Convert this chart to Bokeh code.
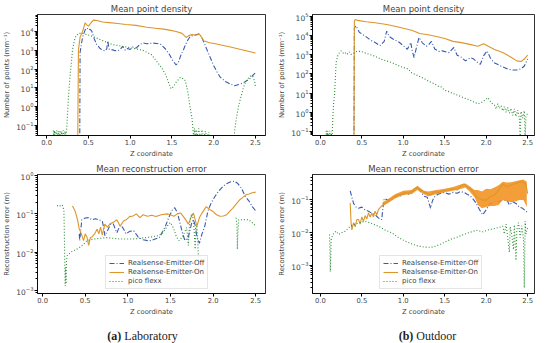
from bokeh.plotting import figure
from bokeh.models import (Range1d, FixedTicker, LogTickFormatter, PrintfTickFormatter,
                          Legend, LegendItem, Div)
from bokeh.layouts import column, row
from bokeh.embed import file_html
from bokeh.resources import INLINE

NAN = float("nan")  # gap in a series (no measurement)

# ---------------- data ----------------
x_ticks = [0.0, 0.5, 1.0, 1.5, 2.0, 2.5]
lab_density_ticks = [0.1, 1, 10, 100, 1000, 10000]
out_density_ticks = [0.1, 1, 10, 100, 1000, 10000, 100000]
lab_error_ticks = [0.001, 0.01, 0.1, 1]
out_error_ticks = [0.001, 0.01, 0.1]
series_names = ["Realsense-Emitter-Off", "Realsense-Emitter-On", "pico flexx"]
captions = ["(a)", "Laboratory", "(b)", "Outdoor"]

# (a) Laboratory - mean point density (z, points per mm)
lab_density_off = [(0.395, 0.001), (0.40, 800), (0.43, 5000), (0.46, 12000), (0.48, 15500), (0.50, 12000),
                   (0.52, 13000), (0.54, 10500), (0.57, 4000), (0.60, 2000), (0.64, 1230), (0.67, 1000),
                   (0.70, 910), (0.72, 1200), (0.73, 3100), (0.75, 1100), (0.79, 1050), (0.82, 950),
                   (0.85, 930), (0.88, 1100), (0.91, 1600), (0.94, 1000), (0.97, 1250), (1.00, 1100),
                   (1.03, 1500), (1.07, 1300), (1.11, 1900), (1.15, 2450), (1.20, 2200), (1.27, 2400),
                   (1.32, 2300), (1.37, 2000), (1.42, 1200), (1.47, 590), (1.51, 280), (1.55, 165),
                   (1.58, 250), (1.61, 600), (1.64, 1120), (1.68, 3000), (1.72, 5600), (1.77, 6300),
                   (1.83, 7600), (1.86, 4500), (1.90, 1700), (1.95, 500), (2.00, 150), (2.04, 70),
                   (2.08, 36), (2.14, 22), (2.20, 16), (2.25, 13), (2.30, 15), (2.35, 18), (2.43, 30),
                   (2.50, 65)]
lab_density_on = [(0.37, 0.001), (0.38, 1000), (0.40, 5000), (0.43, 10000), (0.46, 28800), (0.48, 22400),
                  (0.50, 19000), (0.53, 28200), (0.56, 39800), (0.60, 38000), (0.67, 31600), (0.75, 29500),
                  (0.85, 26300), (0.95, 23400), (1.07, 20900), (1.20, 16600), (1.30, 14800), (1.40, 13200),
                  (1.47, 11700), (1.55, 10000), (1.62, 7900), (1.67, 4800), (1.70, 6000), (1.74, 6900),
                  (1.78, 6300), (1.83, 7100), (1.88, 3200), (1.95, 2500), (2.02, 2200), (2.10, 1860),
                  (2.20, 1500), (2.30, 1170), (2.40, 910), (2.50, 710)]
lab_density_pico = [(0.08, 0.055), (0.085, 0.02), (0.09, 0.055), (0.095, 0.02), (0.10, 0.05), (0.11, 0.02),
                    (0.12, 0.055), (0.13, 0.02), (0.14, 0.05), (0.15, 0.02), (0.16, 0.055), (0.17, 0.02),
                    (0.18, 0.05), (0.19, 0.02), (0.20, 0.055), (0.21, 0.02), (0.22, 0.05), (0.23, 0.02),
                    (0.24, 0.07), (0.26, 3), (0.28, 45), (0.31, 1100), (0.34, 4700), (0.38, 7900),
                    (0.42, 7900), (0.46, 7200), (0.55, 5500), (0.65, 3500), (0.79, 2000), (0.95, 1500),
                    (1.15, 1000), (1.25, 600), (1.33, 220), (1.38, 110), (1.43, 45), (1.47, 14), (1.49, 9),
                    (1.52, 12), (1.55, 20), (1.60, 36), (1.64, 30), (1.66, 24), (1.69, 6), (1.72, 0.8),
                    (1.74, 0.23), (1.75, 0.08), (1.76, 0.02), (1.77, 0.07), (1.78, 0.02), (1.79, 0.06),
                    (1.80, 0.02), (1.82, 0.07), (1.84, 0.02), (1.86, 0.06), (1.88, 0.02), (1.90, 0.05),
                    (1.92, 0.02), (1.94, 0.045), (1.95, 0.01), (2.24, 0.01), (2.25, 0.05), (2.27, 0.23),
                    (2.30, 1.2), (2.33, 4), (2.36, 12), (2.39, 24), (2.43, 40), (2.45, 45), (2.47, 40),
                    (2.49, 22), (2.50, 11)]

# (b) Outdoor - mean point density
out_density_off = [(0.405, 0.01), (0.41, 25000), (0.43, 32000), (0.47, 15000), (0.54, 9500), (0.60, 6000),
                   (0.66, 4400), (0.72, 3000), (0.77, 5000), (0.80, 17000), (0.83, 9000), (0.88, 6500),
                   (0.95, 4500), (1.00, 3000), (1.05, 1950), (1.09, 4400), (1.11, 1500), (1.13, 720),
                   (1.16, 2500), (1.19, 8000), (1.23, 4200), (1.28, 2800), (1.31, 3500), (1.34, 5000),
                   (1.38, 2000), (1.43, 1500), (1.47, 1600), (1.55, 1300), (1.61, 2400), (1.65, 950),
                   (1.70, 750), (1.75, 480), (1.81, 700), (1.85, 600), (1.89, 420), (1.93, 320),
                   (1.97, 900), (2.01, 1600), (2.05, 700), (2.09, 400), (2.17, 270), (2.26, 180),
                   (2.32, 160), (2.38, 160), (2.43, 200), (2.46, 260), (2.50, 600)]
out_density_on = [(0.405, 0.01), (0.41, 55000), (0.42, 69000), (0.45, 62000), (0.55, 53000), (0.66, 47000),
                  (0.80, 38000), (0.90, 31000), (1.00, 24000), (1.10, 19000), (1.20, 13000), (1.30, 11000),
                  (1.40, 9000), (1.50, 7000), (1.60, 5000), (1.70, 4300), (1.80, 3500), (1.90, 2800),
                  (1.97, 3800), (2.02, 2900), (2.10, 1900), (2.20, 1300), (2.30, 750), (2.37, 480),
                  (2.42, 450), (2.46, 600), (2.50, 950)]
out_density_pico = [(0.07, 0.11), (0.075, 0.03), (0.08, 0.11), (0.085, 0.03), (0.09, 0.10), (0.10, 0.03),
                    (0.11, 0.11), (0.12, 0.03), (0.13, 0.10), (0.14, 0.03), (0.15, 0.5), (0.16, 3),
                    (0.17, 7), (0.19, 400), (0.21, 900), (0.23, 1300), (0.25, 1600), (0.27, 1300),
                    (0.29, 1100), (0.31, 1350), (0.33, 1100), (0.35, 1400), (0.37, 1050), (0.40, 1200),
                    (0.44, 1500), (0.49, 1500), (0.55, 1200), (0.65, 870), (0.75, 550), (0.86, 400),
                    (0.96, 250), (1.06, 180), (1.10, 115), (1.18, 80), (1.26, 55), (1.30, 43), (1.38, 30),
                    (1.43, 22), (1.46, 21), (1.50, 14), (1.55, 12), (1.60, 9.5), (1.65, 8), (1.70, 6.5),
                    (1.75, 5.2), (1.80, 4.5), (1.85, 3.5), (1.90, 2.8), (1.96, 3.5), (2.02, 5.8),
                    (2.06, 3.2), (2.10, 2.4), (2.12, 1.5), (2.14, 2.8), (2.16, 1.6), (2.18, 2.2),
                    (2.20, 1.2), (2.22, 2.0), (2.24, 1.0), (2.26, 1.8), (2.28, 0.9), (2.30, 1.6),
                    (2.32, 0.7), (2.34, 1.5), (2.36, 0.6), (2.38, 1.3), (2.40, 0.5), (2.41, 0.05),
                    (2.42, 1.1), (2.44, 0.5), (2.46, 1.2), (2.47, 0.05), (2.48, 0.6), (2.50, 0.9)]

# (a) Laboratory - mean reconstruction error (z, metres)
lab_error_off = [(0.43, 0.03), (0.435, 0.02), (0.46, 0.07), (0.50, 0.078), (0.54, 0.08), (0.58, 0.07),
                 (0.62, 0.075), (0.66, 0.07), (0.70, 0.065), (0.72, 0.04), (0.73, 0.027), (0.77, 0.04),
                 (0.80, 0.055), (0.83, 0.054), (0.87, 0.032), (0.91, 0.05), (0.94, 0.044), (0.98, 0.03),
                 (1.02, 0.035), (1.07, 0.036), (1.12, 0.025), (1.18, 0.021), (1.23, 0.02), (1.27, 0.02),
                 (1.32, 0.022), (1.37, 0.024), (1.41, 0.035), (1.44, 0.047), (1.48, 0.08), (1.52, 0.125),
                 (1.55, 0.145), (1.58, 0.11), (1.61, 0.06), (1.64, 0.032), (1.67, 0.02), (1.71, 0.025),
                 (1.75, 0.059), (1.77, 0.07), (1.79, 0.05), (1.81, 0.025), (1.84, 0.017), (1.87, 0.03),
                 (1.90, 0.045), (1.94, 0.12), (1.98, 0.2), (2.02, 0.28), (2.06, 0.38), (2.10, 0.48),
                 (2.15, 0.6), (2.20, 0.68), (2.25, 0.72), (2.29, 0.62), (2.33, 0.48), (2.38, 0.28),
                 (2.42, 0.22), (2.46, 0.155), (2.50, 0.12)]
lab_error_on = [(0.35, 0.16), (0.38, 0.12), (0.41, 0.07), (0.43, 0.04), (0.45, 0.032), (0.48, 0.02),
                (0.50, 0.03), (0.52, 0.025), (0.54, 0.015), (0.56, 0.024), (0.58, 0.025), (0.61, 0.03),
                (0.64, 0.04), (0.66, 0.03), (0.68, 0.045), (0.70, 0.028), (0.73, 0.054), (0.76, 0.045),
                (0.79, 0.055), (0.83, 0.06), (0.87, 0.07), (0.91, 0.048), (0.95, 0.065), (0.98, 0.07),
                (1.02, 0.085), (1.06, 0.088), (1.10, 0.1), (1.14, 0.08), (1.18, 0.095), (1.23, 0.087),
                (1.28, 0.092), (1.33, 0.085), (1.39, 0.095), (1.46, 0.1), (1.50, 0.095), (1.54, 0.087),
                (1.58, 0.1), (1.62, 0.105), (1.67, 0.075), (1.71, 0.054), (1.74, 0.08), (1.77, 0.105),
                (1.81, 0.048), (1.84, 0.08), (1.87, 0.105), (1.92, 0.155), (1.96, 0.13), (2.00, 0.115),
                (2.04, 0.095), (2.08, 0.087), (2.12, 0.088), (2.16, 0.095), (2.20, 0.12), (2.23, 0.14),
                (2.27, 0.18), (2.31, 0.23), (2.35, 0.27), (2.38, 0.31), (2.42, 0.33), (2.46, 0.355),
                (2.50, 0.37)]
lab_error_pico = [(0.17, 0.16), (0.19, 0.17), (0.21, 0.16), (0.23, 0.17), (0.24, 0.155), (0.25, 0.12),
                  (0.255, 0.03), (0.26, 0.005), (0.265, 0.0013), (0.27, 0.004), (0.275, 0.0015),
                  (0.28, 0.006), (0.29, 0.0083), (0.31, 0.009), (0.33, 0.01), (0.37, 0.011), (0.41, 0.0123),
                  (0.45, 0.014), (0.48, 0.016), (0.52, 0.02), (0.56, 0.021), (0.60, 0.022), (0.68, 0.023),
                  (0.75, 0.024), (0.83, 0.023), (0.91, 0.022), (1.00, 0.022), (1.06, 0.022), (1.14, 0.023),
                  (1.21, 0.024), (1.28, 0.025), (1.36, 0.027), (1.41, 0.032), (1.44, 0.04), (1.47, 0.05),
                  (1.50, 0.059), (1.52, 0.05), (1.54, 0.04), (1.57, 0.025), (1.60, 0.02), (1.64, 0.025),
                  (1.67, 0.035), (1.69, 0.044), (1.70, 0.025), (1.71, 0.015), (1.72, 0.04), (1.73, 0.07),
                  (1.75, 0.1), (1.77, 0.07), (1.78, 0.03), (1.79, 0.012), (1.80, 0.04), (1.81, 0.05),
                  (1.82, 0.02), (1.83, 0.0056), (1.84, 0.003), (1.845, NAN),
                  (2.27, 0.079), (2.28, 0.05), (2.285, 0.012), (2.29, 0.03), (2.30, 0.07), (2.31, 0.071),
                  (2.34, 0.07), (2.38, 0.071), (2.42, 0.07), (2.46, 0.059), (2.50, 0.048)]

# (b) Outdoor - mean reconstruction error
out_error_off = [(0.36, 0.19), (0.38, 0.12), (0.40, 0.078), (0.43, 0.06), (0.46, 0.055), (0.50, 0.06),
                 (0.54, 0.049), (0.58, 0.045), (0.62, 0.039), (0.66, 0.035), (0.70, 0.028), (0.74, 0.025),
                 (0.75, 0.045), (0.77, 0.11), (0.81, 0.1), (0.86, 0.098), (0.90, 0.12), (0.93, 0.14),
                 (0.98, 0.13), (1.02, 0.17), (1.06, 0.15), (1.10, 0.17), (1.14, 0.2), (1.17, 0.245),
                 (1.21, 0.18), (1.25, 0.13), (1.29, 0.12), (1.33, 0.055), (1.35, 0.09), (1.37, 0.12),
                 (1.42, 0.15), (1.49, 0.17), (1.55, 0.15), (1.60, 0.17), (1.65, 0.16), (1.69, 0.18),
                 (1.73, 0.17), (1.77, 0.15), (1.81, 0.13), (1.85, 0.1), (1.88, 0.078), (1.92, 0.05),
                 (1.96, 0.035), (2.00, 0.05), (2.04, 0.075), (2.10, 0.085), (2.15, 0.09), (2.20, 0.098),
                 (2.25, 0.1), (2.28, 0.07), (2.32, 0.088), (2.36, 0.078), (2.40, 0.06), (2.44, 0.055),
                 (2.48, 0.045), (2.50, 0.04)]
out_error_on = [(0.36, 0.08), (0.37, 0.02), (0.38, 0.012), (0.40, 0.02), (0.42, 0.015), (0.44, 0.025),
                (0.46, 0.025), (0.48, 0.018), (0.50, 0.03), (0.52, 0.022), (0.54, 0.033), (0.56, 0.026),
                (0.58, 0.04), (0.60, 0.03), (0.62, 0.039), (0.64, 0.03), (0.66, 0.045), (0.68, 0.035),
                (0.70, 0.05), (0.74, 0.065), (0.78, 0.078), (0.82, 0.09), (0.86, 0.11), (0.90, 0.13),
                (0.93, 0.14), (0.98, 0.15), (1.02, 0.17), (1.06, 0.16), (1.10, 0.18), (1.14, 0.22),
                (1.17, 0.245), (1.21, 0.2), (1.25, 0.17), (1.29, 0.16), (1.33, 0.14), (1.37, 0.18),
                (1.42, 0.17), (1.49, 0.195), (1.55, 0.2), (1.60, 0.22), (1.65, 0.2), (1.69, 0.26),
                (1.73, 0.31), (1.77, 0.25), (1.81, 0.22), (1.85, 0.17), (1.88, 0.12), (1.92, 0.11),
                (1.96, 0.098), (2.00, 0.1), (2.04, 0.12), (2.10, 0.14), (2.15, 0.2), (2.20, 0.31),
                (2.25, 0.25), (2.28, 0.27), (2.32, 0.3), (2.36, 0.32), (2.40, 0.35), (2.44, 0.35),
                (2.48, 0.3), (2.50, 0.155)]
# noisy spread of the Emitter-On error (z, low, high)
out_error_on_spread = [(0.75, 0.065, 0.085), (0.80, 0.075, 0.1), (0.90, 0.11, 0.15), (1.00, 0.14, 0.19),
                       (1.10, 0.15, 0.2), (1.17, 0.2, 0.27), (1.25, 0.15, 0.19), (1.30, 0.13, 0.18),
                       (1.40, 0.15, 0.2), (1.50, 0.17, 0.22), (1.60, 0.19, 0.25), (1.70, 0.22, 0.3),
                       (1.75, 0.24, 0.32), (1.80, 0.18, 0.26), (1.86, 0.12, 0.2), (1.90, 0.07, 0.2),
                       (1.95, 0.055, 0.18), (2.00, 0.06, 0.22), (2.05, 0.065, 0.21), (2.10, 0.065, 0.24),
                       (2.15, 0.07, 0.28), (2.20, 0.1, 0.36), (2.25, 0.09, 0.34), (2.30, 0.085, 0.35),
                       (2.35, 0.09, 0.37), (2.40, 0.1, 0.4), (2.45, 0.1, 0.42), (2.49, 0.06, 0.36)]
out_error_pico = [(0.11, 0.0087), (0.115, 0.003), (0.12, 0.00063), (0.125, 0.002), (0.13, 0.006),
                  (0.15, 0.0087), (0.19, 0.011), (0.22, 0.0087), (0.26, 0.01), (0.30, 0.011), (0.36, 0.0155),
                  (0.41, 0.018), (0.46, 0.0195), (0.54, 0.022), (0.62, 0.019), (0.70, 0.0155), (0.78, 0.012),
                  (0.86, 0.0098), (0.94, 0.0071), (1.02, 0.0055), (1.10, 0.0045), (1.17, 0.0039),
                  (1.25, 0.0036), (1.33, 0.0035), (1.39, 0.0038), (1.45, 0.0044), (1.51, 0.0052),
                  (1.57, 0.0062), (1.65, 0.0072), (1.73, 0.0087), (1.80, 0.01), (1.88, 0.0117),
                  (1.96, 0.0105), (2.04, 0.0123), (2.12, 0.0135), (2.20, 0.0155), (2.22, 0.009),
                  (2.24, 0.018), (2.26, 0.007), (2.28, 0.0025), (2.29, 0.015), (2.31, 0.008), (2.33, 0.003),
                  (2.34, 0.017), (2.36, 0.0014), (2.37, 0.012), (2.39, 0.02), (2.41, 0.007), (2.43, 0.016),
                  (2.45, 0.0065), (2.46, 0.0002), (2.47, 0.022), (2.48, 0.009), (2.50, 0.014)]

# ---------------- styling ----------------
FONT = "DejaVu Sans"
BLUE = "#3a5bab"
ORANGE = "#dc962a"
ORANGE_FILL = "#f39424"
GREEN = "#2e8f35"
DASHDOT = "5 2 1 2"
DOTTED = "1 2"


def minor_ticks(lo, hi):
    return [m * 10.0 ** e for e in range(lo, hi + 1) for m in range(2, 10)]


def make_fig(title, ylabel, xr, yr, width, height, left, right, bottom, majors, minors):
    p = figure(width=width, height=height, x_range=Range1d(*xr), y_range=Range1d(*yr),
               y_axis_type="log", output_backend="svg", toolbar_location=None,
               min_border_left=left, min_border_right=right, min_border_top=0, min_border_bottom=bottom,
               background_fill_color="white", border_fill_color="white")
    p.title.text = title
    p.title.align = "center"
    p.title.text_font = FONT
    p.title.text_font_size = "8.5px"
    p.title.text_font_style = "normal"
    p.title.standoff = 2
    p.title.offset = 0
    p.xgrid.visible = False
    p.ygrid.visible = False
    p.outline_line_color = "black"
    p.outline_line_width = 0.8
    for ax in p.axis:
        ax.major_label_text_font = FONT
        ax.major_label_text_font_size = "6.8px"
        ax.axis_label_text_font = FONT
        ax.axis_label_text_font_size = "6.8px"
        ax.axis_label_text_font_style = "normal"
        ax.major_tick_out = 3
        ax.major_tick_in = 0
        ax.minor_tick_out = 2
        ax.minor_tick_in = 0
        ax.major_label_standoff = 1
        ax.axis_label_standoff = 2
        ax.axis_line_color = "black"
        ax.axis_line_width = 0.8
    p.xaxis.ticker = FixedTicker(ticks=x_ticks)
    p.xaxis.formatter = PrintfTickFormatter(format="%.1f")
    p.xaxis.axis_label = "Z coordinate"
    p.yaxis.ticker = FixedTicker(ticks=majors, minor_ticks=minors)
    p.yaxis.formatter = LogTickFormatter()
    p.yaxis.major_label_text_font_size = "7.5px"
    p.yaxis.axis_label = ylabel
    return p


def split(pairs):
    return [a for a, _ in pairs], [b for _, b in pairs]


def draw(p, off, on, pico, on_spread=None):
    r_off = p.line(*split(off), line_color=BLUE, line_width=1.1, line_dash=DASHDOT)
    if on_spread is not None:
        z = [t[0] for t in on_spread]
        p.varea(x=z, y1=[t[1] for t in on_spread], y2=[t[2] for t in on_spread],
                fill_color=ORANGE_FILL, fill_alpha=0.9)
    r_on = p.line(*split(on), line_color=ORANGE, line_width=1.1)
    r_pico = p.line(*split(pico), line_color=GREEN, line_width=1.1, line_dash=DOTTED)
    return [r_off, r_on, r_pico]


def add_legend(p, renderers, loc):
    items = [LegendItem(label=n, renderers=[r]) for n, r in zip(series_names, renderers)]
    lg = Legend(items=items, location=loc, label_text_font=FONT, label_text_font_size="7px",
                glyph_width=15, glyph_height=8, label_height=8, label_standoff=4, spacing=1,
                padding=3, margin=0, border_line_color="#cccccc", border_line_width=0.8,
                background_fill_alpha=0.85)
    p.add_layout(lg)


YL_DENS = "Number of points (mm⁻¹)"
YL_ERR = "Reconstruction error (m)"

p1 = make_fig("Mean point density", YL_DENS, (-0.11, 2.62), (0.0295, 79400), 275, 160, 33, 10, 25,
              lab_density_ticks, minor_ticks(-2, 4))
draw(p1, lab_density_off, lab_density_on, lab_density_pico)

p2 = make_fig("Mean point density", YL_DENS, (-0.095, 2.583), (0.062, 126000), 275, 160, 33, 16, 25,
              out_density_ticks, minor_ticks(-2, 5))
draw(p2, out_density_off, out_density_on, out_density_pico)

p3 = make_fig("Mean reconstruction error", YL_ERR, (-0.06, 2.615), (0.00083, 1.07), 275, 158, 33, 10, 24,
              lab_error_ticks, minor_ticks(-4, 0))
r3 = draw(p3, lab_error_off, lab_error_on, lab_error_pico)
add_legend(p3, r3, (68, 4))

p4 = make_fig("Mean reconstruction error", YL_ERR, (-0.095, 2.583), (0.000135, 0.6), 275, 158, 33, 16, 24,
              out_error_ticks, minor_ticks(-4, -1))
r4 = draw(p4, out_error_off, out_error_on, out_error_pico, out_error_on_spread)
add_legend(p4, r4, (67, 4))

cap_style = {"font-family": "'Liberation Serif', 'DejaVu Serif', serif", "font-size": "12px",
             "text-align": "center", "line-height": "26px", "color": "#222222"}
d1 = Div(text=f"<b>{captions[0]}</b> {captions[1]}", width=275, height=25, styles=cap_style)
d2 = Div(text=f"<b>{captions[2]}</b> {captions[3]}", width=275, height=25, styles=cap_style)

layout = column(row(p1, p2, spacing=0), row(p3, p4, spacing=0), row(d1, d2, spacing=0), spacing=0)

with open("out.html", "w") as f:
    f.write(file_html(layout, INLINE))
